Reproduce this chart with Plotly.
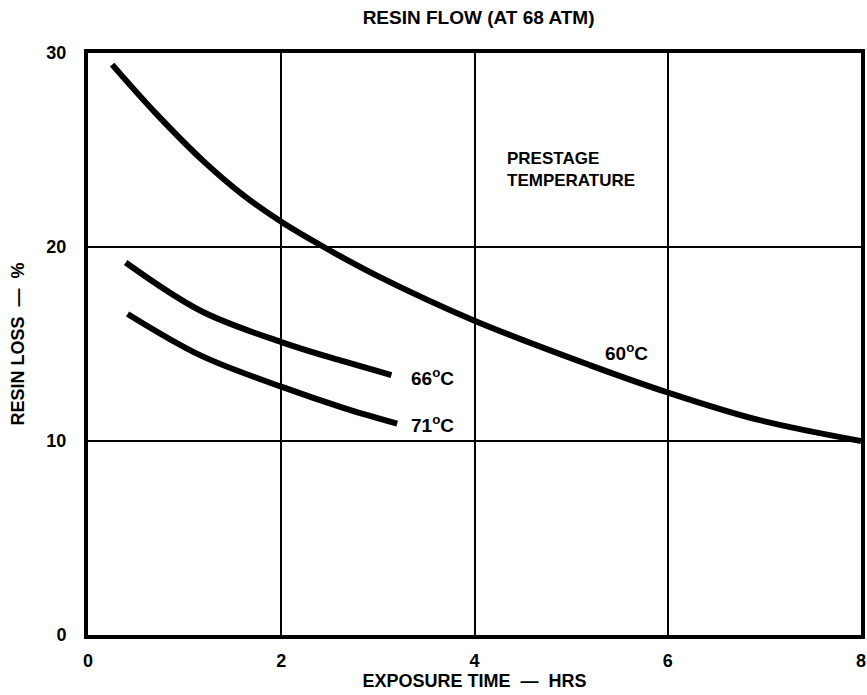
import plotly.graph_objects as go

# Data
t60 = [0.25, 0.7, 1.2, 1.6, 2.0, 2.44, 3.0, 4.0, 5.2, 6.0, 6.93, 8.0]
r60 = [29.4, 26.9, 24.4, 22.7, 21.3, 20.0, 18.5, 16.2, 13.9, 12.5, 11.1, 10.0]
t66 = [0.39, 1.17, 2.0, 2.65, 3.14]
r66 = [19.2, 16.7, 15.1, 14.1, 13.4]
t71 = [0.41, 1.17, 2.0, 2.65, 3.2]
r71 = [16.55, 14.4, 12.8, 11.7, 10.9]

x_ticks = [0, 2, 4, 6, 8]
y_ticks = [0, 10, 20, 30]

labels = ["60<sup>o</sup>C", "66<sup>o</sup>C", "71<sup>o</sup>C"]
label_x = [5.33, 3.32, 3.32]
label_y = [14.6, 13.3, 10.9]

FONT = "Liberation Sans, Arial, sans-serif"

fig = go.Figure()
for t, r in [(t60, r60), (t66, r66), (t71, r71)]:
    fig.add_trace(go.Scatter(x=t, y=r, mode="lines",
                             line=dict(color="black", width=6, shape="spline", smoothing=1.0),
                             showlegend=False, hoverinfo="skip"))

for lab, lx, ly in zip(labels, label_x, label_y):
    fig.add_annotation(x=lx, y=ly, text="<b>" + lab + "</b>", showarrow=False, xanchor="left",
                       yanchor="middle", font=dict(size=19, color="black", family=FONT))

fig.add_annotation(x=4.32, y=24.0, text="<b>PRESTAGE<br>TEMPERATURE</b>", showarrow=False,
                   xanchor="left", yanchor="middle", align="left",
                   font=dict(size=17, color="black", family=FONT))

fig.update_layout(
    width=867, height=695,
    margin=dict(l=88, r=2, t=53, b=60),
    paper_bgcolor="white", plot_bgcolor="white",
    font=dict(family=FONT, color="black", size=17),
    title=dict(text="<b>RESIN FLOW (AT 68 ATM)</b>", x=0.552, xanchor="center", y=0.975,
               yanchor="middle", font=dict(size=19, family=FONT, color="black")),
    xaxis=dict(range=[0, 8], tickvals=x_ticks, ticktext=["<b>%d</b>" % v for v in x_ticks],
               showgrid=True, gridcolor="black", gridwidth=2, zeroline=False,
               showline=True, linecolor="black", linewidth=4, mirror=True,
               ticks="", tickfont=dict(size=18), ticklabelstandoff=6,
               title=dict(text="<b>EXPOSURE TIME  —  HRS</b>", font=dict(size=18), standoff=4)),
    yaxis=dict(range=[0, 30], tickvals=y_ticks, ticktext=["<b>%d</b>" % v for v in y_ticks],
               showgrid=True, gridcolor="black", gridwidth=2, zeroline=False,
               showline=True, linecolor="black", linewidth=4, mirror=True,
               ticks="", tickfont=dict(size=18), ticklabelstandoff=14,
               title=dict(text="<b>RESIN LOSS  —  %</b>", font=dict(size=18), standoff=18)),
)

fig.write_html("out.html")
